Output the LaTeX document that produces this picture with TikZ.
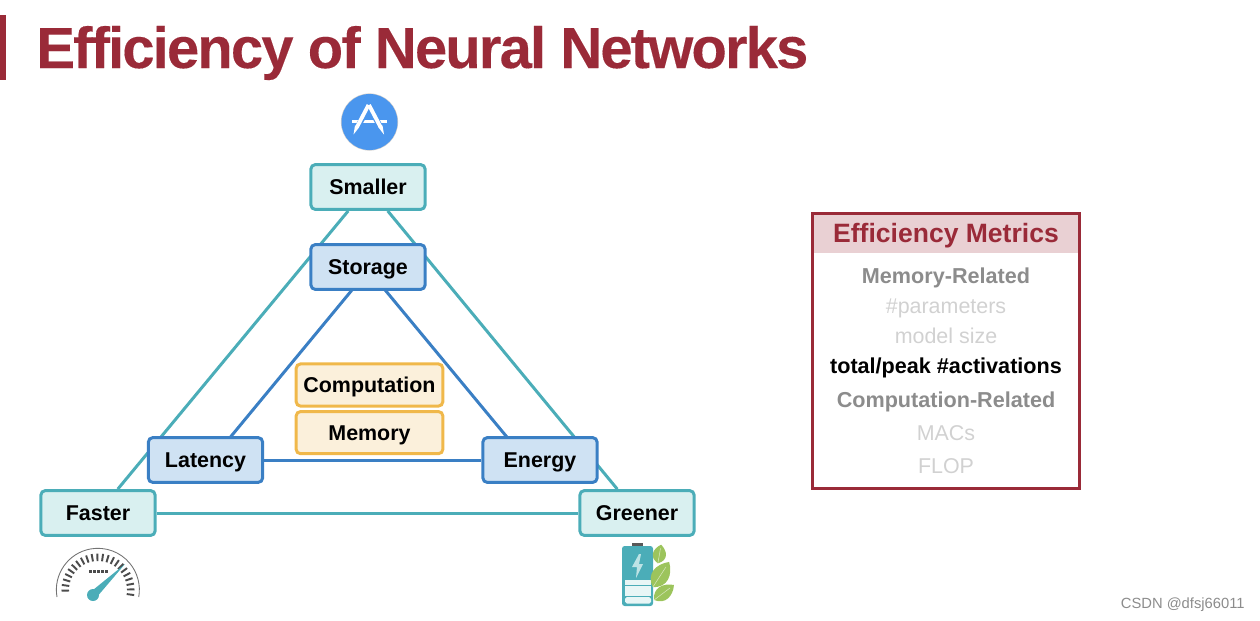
\documentclass[tikz,border=0pt]{standalone}
\usepackage{fontspec}
\setmainfont{Liberation Sans}
\newfontfamily\headingfont[LetterSpace=-3.2,FakeBold=0.2]{Liberation Sans Bold}
\usetikzlibrary{positioning,backgrounds}
\definecolor{wine}{HTML}{9A2A38}
\definecolor{teal}{HTML}{4BADB8}
\definecolor{tealfill}{HTML}{D9F0F0}
\definecolor{steel}{HTML}{3A7FC4}
\definecolor{steelfill}{HTML}{CFE2F3}
\definecolor{amber}{HTML}{F0B84A}
\definecolor{amberfill}{HTML}{FBF0DB}
\definecolor{leaf}{HTML}{9CC45C}
\definecolor{appblue}{HTML}{4A96EE}
\begin{document}
\begin{tikzpicture}[x=0.02cm,y=-0.02cm]
    \tikzstyle{block} = [rectangle, draw, rounded corners=2.5pt, line width=1.7pt, minimum width=65pt, minimum height=25.5pt, inner sep=0pt, text height=8.7pt, text depth=0pt, font=\fontsize{12.2}{14}\selectfont\bfseries]
    \tikzstyle{goal} = [block, draw=teal, fill=tealfill]
    \tikzstyle{metric} = [block, draw=steel, fill=steelfill]
    \tikzstyle{resource} = [block, draw=amber, fill=amberfill, minimum width=83.5pt, minimum height=24pt]
    \tikzstyle{goalline} = [draw=teal, line width=1.7pt]
    \tikzstyle{metricline} = [draw=steel, line width=1.7pt]
    \tikzstyle{row} = [anchor=base, inner sep=0pt, font=\fontsize{12.2}{14}\selectfont]
    \tikzstyle{rowhead} = [row, text=black!45, font=\fontsize{12.3}{14}\selectfont\bfseries]
    \useasboundingbox (0,0) rectangle (1260,620);

    % title
    \fill[wine] (0,15) rectangle (6,80);
    \node [anchor=base west, inner sep=0pt, text=wine, font=\fontsize{33}{38}\headingfont] (title) at (36,68) {Efficiency of Neural Networks};

    % triangle
    \node [goal] (smaller) at (368,187) {Smaller};
    \node [goal] (faster) at (98,513) {Faster};
    \node [goal] (greener) at (637,513) {Greener};
    \node [metric] (storage) at (368,267) {Storage};
    \node [metric] (latency) at (205.5,460) {Latency};
    \node [metric] (energy) at (540,460) {Energy};
    \node [resource] (computation) at (369.5,385) {Computation};
    \node [resource, below=1.4pt of computation] (memory) {Memory};

    \begin{scope}[on background layer]
        \draw[goalline] (smaller) -- (faster);
        \draw[goalline] (smaller) -- (greener);
        \draw[goalline] (faster) -- (greener);
        \draw[metricline] ([xshift=1.7pt]storage.center) -- ([xshift=3.4pt]latency.center);
        \draw[metricline] ([xshift=-1.1pt]storage.center) -- ([xshift=-8pt]energy.center);
        \draw[metricline] (latency) -- (energy);
    \end{scope}

    % app icon above Smaller
    \fill[black!20] (369.5,122) circle (28.6);
    \fill[appblue] (369.5,122) circle (28);
    \draw[white, line width=1.7pt] (352,121) -- (387,121);
    \draw[appblue, line width=3.2pt] (369,106) -- (355,132);
    \draw[appblue, line width=3.2pt] (369,106) -- (383,132);
    \draw[white, line width=2.2pt] (368.5,105) -- (357,127);
    \fill[white] (355,125.5) -- (359,127.5) -- (353.5,134.5) -- cycle;
    \draw[white, line width=2.2pt] (369,105) -- (380.5,127);
    \fill[white] (378.5,127.5) -- (382.5,125.5) -- (384,134.5) -- cycle;

    % speedometer below Faster
    \draw[black!55, line width=0.5pt] (57,597) arc (170:370:41.5);
    \foreach \ang in {-8,1,...,188}
        \draw[black!70, line width=1.1pt] ({98+29*cos(\ang)},{590-29*sin(\ang)}) -- ({98+36.5*cos(\ang)},{590-36.5*sin(\ang)});
    \foreach \dotx in {88.5,92.5,...,104.5}
        \fill[black!70] (\dotx,570) rectangle ++(3,2.5);
    \fill[teal] (90.5,592) -- (125,564) -- (96,598) -- cycle;
    \fill[teal] (93,595) circle (6);

    % battery below Greener
    \fill[black!65] (632,543) rectangle (643,547);
    \fill[teal, rounded corners=1.5pt] (622,546) rectangle (653,606);
    \fill[tealfill!60!white] (625,580) rectangle (651,585);
    \fill[tealfill!60!white] (625,586) rectangle (651,596);
    \fill[tealfill!60!white, rounded corners=1pt] (625,597) rectangle (651,603.5);
    \fill[tealfill!80!teal] (639,554) -- (632,567) -- (637,567) -- (636,578) -- (643,564) -- (639,564) -- (641,554) -- cycle;
    \foreach \cx/\cy/\len/\wid/\ang in {659.5/554/9.5/6.5/80, 661/574.5/15/8.5/57, 664/592.5/12.5/7/37} {
        \fill[leaf, rotate around={\ang:(\cx,\cy)}] (\cx-\len,\cy) .. controls (\cx-\len*0.5,\cy-\wid*1.5) and (\cx+\len*0.4,\cy-\wid*1.2) .. (\cx+\len,\cy) .. controls (\cx+\len*0.4,\cy+\wid*1.2) and (\cx-\len*0.5,\cy+\wid*1.5) .. cycle;
        \draw[white, opacity=0.6, line width=0.3pt, rotate around={\ang:(\cx,\cy)}] (\cx-\len,\cy) -- (\cx+\len*0.6,\cy);
    }

    % metrics card
    \fill[wine!22] (812,212) rectangle (1080,253);
    \draw[wine, line width=1.7pt] (812.6,213) rectangle (1079.5,488.5);
    \node [row, text=wine, font=\fontsize{15.1}{17}\selectfont\bfseries] (header) at (946,242) {Efficiency Metrics};
    \node [rowhead] (memrel) at (946,283) {Memory-Related};
    \node [row, text=black!18] (params) at (946,313) {\#parameters};
    \node [row, text=black!18] (modelsize) at (946,343) {model size};
    \node [rowhead, text=black] (activations) at (946,373) {total/peak \#activations};
    \node [rowhead] (comprel) at (946,407) {Computation-Related};
    \node [row, text=black!18] (macs) at (946,440) {MACs};
    \node [row, text=black!18] (flop) at (946,473) {FLOP};

    \node [anchor=base east, inner sep=0pt, text=black!45, font=\fontsize{8.4}{10}\selectfont] (credit) at (1245,608) {CSDN @dfsj66011};
\end{tikzpicture}
\end{document}
